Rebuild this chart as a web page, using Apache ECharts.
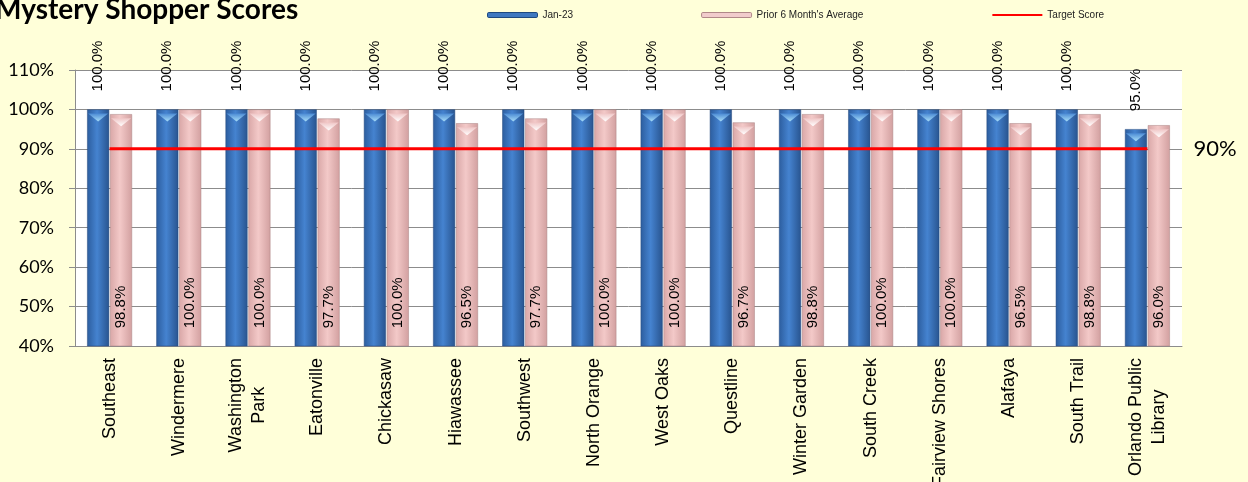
<!DOCTYPE html>
<html>
<head>
<meta charset="utf-8">
<script src="https://cdn.jsdelivr.net/npm/echarts@6/dist/echarts.min.js"></script>
<style>
  html, body { margin: 0; padding: 0; background: #ffffd9; }
  #chart { width: 1248px; height: 482px; }
</style>
</head>
<body>
<div id="chart"></div>
<script>
const branches = [
  'Southeast', 'Windermere', 'Washington\nPark', 'Eatonville', 'Chickasaw',
  'Hiawassee', 'Southwest', 'North Orange', 'West Oaks', 'Questline',
  'Winter Garden', 'South Creek', 'Fairview Shores', 'Alafaya', 'South Trail',
  'Orlando Public\nLibrary'
]
const jan23 = [100, 100, 100, 100, 100, 100, 100, 100, 100, 100, 100, 100, 100, 100, 100, 95]
const prior6 = [98.8, 100, 100, 97.7, 100, 96.5, 97.7, 100, 100, 96.7, 98.8, 100, 100, 96.5, 98.8, 96.0]
const target = [90, 90, 90, 90, 90, 90, 90, 90, 90, 90, 90, 90, 90, 90, 90, 90]

const chart = echarts.init(document.getElementById('chart'))

const blueFill = new echarts.graphic.LinearGradient(0, 0, 1, 0, [
  { offset: 0, color: '#2c5d9e' },
  { offset: 0.45, color: '#4583d0' },
  { offset: 1, color: '#28548f' }
])
const pinkFill = new echarts.graphic.LinearGradient(0, 0, 1, 0, [
  { offset: 0, color: '#d9a7a7' },
  { offset: 0.45, color: '#f3c9c8' },
  { offset: 1, color: '#d2a0a0' }
])
const blueCap = new echarts.graphic.LinearGradient(0, 0, 0, 1, [
  { offset: 0, color: '#a6dcf8' },
  { offset: 1, color: '#4a8ad4' }
])
const pinkCap = new echarts.graphic.LinearGradient(0, 0, 0, 1, [
  { offset: 0, color: '#ffffff' },
  { offset: 1, color: '#f0c6c6' }
])

const last = target.length - 1

// bevel highlight at the top of each bar
function capSeries(name, values, dx, fill) {
  return {
    name: name,
    type: 'pictorialBar',
    data: values,
    symbol: 'triangle',
    symbolRotate: 180,
    symbolPosition: 'end',
    symbolSize: [20, 8],
    symbolOffset: [dx, 4],
    itemStyle: { color: fill },
    z: 4,
    silent: true
  }
}

chart.setOption({
  backgroundColor: '#ffffd9',
  title: {
    text: 'Mystery Shopper Scores',
    left: -10,
    top: -9,
    textStyle: {
      fontFamily: 'Lato',
      fontWeight: 'bold',
      fontSize: 28,
      color: '#000'
    }
  },
  legend: {
    left: 487,
    top: 10,
    padding: 0,
    itemWidth: 50,
    itemHeight: 5,
    itemGap: 128,
    textStyle: { fontFamily: 'Liberation Sans', fontSize: 10, color: '#222' },
    data: [
      { name: 'Jan-23', icon: 'roundRect', itemStyle: { color: '#3f78c0', borderColor: '#1f4a80', borderWidth: 1 } },
      { name: "Prior 6 Month's Average", icon: 'roundRect', itemStyle: { color: '#f1cccc', borderColor: '#b08888', borderWidth: 1 } },
      { name: 'Target Score', itemStyle: { opacity: 0 } }
    ]
  },
  grid: {
    left: 75,
    right: 66,
    top: 70,
    bottom: 136,
    outerBoundsMode: 'none',
    containLabel: false,
    show: true,
    backgroundColor: '#ffffff',
    borderWidth: 0
  },
  xAxis: {
    type: 'category',
    data: branches,
    axisLine: { lineStyle: { color: '#8c8c8c' } },
    axisTick: { length: 6, lineStyle: { color: '#8c8c8c' } },
    axisLabel: {
      rotate: 90,
      interval: 0,
      margin: 12,
      color: '#000',
      align: 'right',
      // wrapped names: centre each line like Excel does
      formatter: v => v.split('\n').map(s => '{c|' + s + '}').join('\n'),
      rich: {
        c: {
          align: 'center',
          fontFamily: 'Liberation Sans',
          fontSize: 18,
          lineHeight: 23,
          color: '#000'
        }
      }
    }
  },
  yAxis: {
    type: 'value',
    min: 40,
    max: 110,
    interval: 10,
    axisLine: { show: true, lineStyle: { color: '#8c8c8c' } },
    axisTick: { show: true, length: 6, lineStyle: { color: '#8c8c8c' } },
    splitLine: { lineStyle: { color: '#8c8c8c' } },
    axisLabel: {
      formatter: '{value}%',
      margin: 21,
      fontFamily: 'Lato',
      fontSize: 18,
      color: '#000'
    }
  },
  series: [
    {
      name: 'Jan-23',
      type: 'bar',
      data: jan23,
      barWidth: 22,
      barGap: '4%',
      itemStyle: { color: blueFill, borderColor: '#24497c', borderWidth: 0.5 },
      label: {
        show: true,
        position: 'top',
        rotate: 90,
        align: 'left',
        verticalAlign: 'middle',
        distance: 18,
        formatter: p => p.value.toFixed(1) + '%',
        fontFamily: 'Liberation Sans',
        fontSize: 15,
        color: '#000'
      }
    },
    {
      name: "Prior 6 Month's Average",
      type: 'bar',
      data: prior6,
      barWidth: 22,
      itemStyle: { color: pinkFill, borderColor: '#a88080', borderWidth: 0.5 },
      label: {
        show: true,
        position: 'insideBottom',
        rotate: 90,
        align: 'left',
        verticalAlign: 'middle',
        distance: 18,
        formatter: p => p.value.toFixed(1) + '%',
        fontFamily: 'Liberation Sans',
        fontSize: 15,
        color: '#000'
      }
    },
    capSeries('capJan', jan23, -11.5, blueCap),
    capSeries('capPrior', prior6, 11.5, pinkCap),
    {
      name: 'Target Score',
      type: 'line',
      data: target.map((v, i) => i === last
        ? { value: v, label: { show: true } }
        : v),
      symbol: 'circle',
      symbolSize: 0,
      showSymbol: true,
      lineStyle: { color: '#ff0000', width: 3 },
      itemStyle: { color: '#ff0000' },
      z: 5,
      label: {
        show: false,
        position: 'right',
        distance: 46,
        formatter: p => p.value + '%',
        fontFamily: 'Lato',
        fontSize: 22,
        color: '#000'
      }
    }
  ]
})
</script>
</body>
</html>
